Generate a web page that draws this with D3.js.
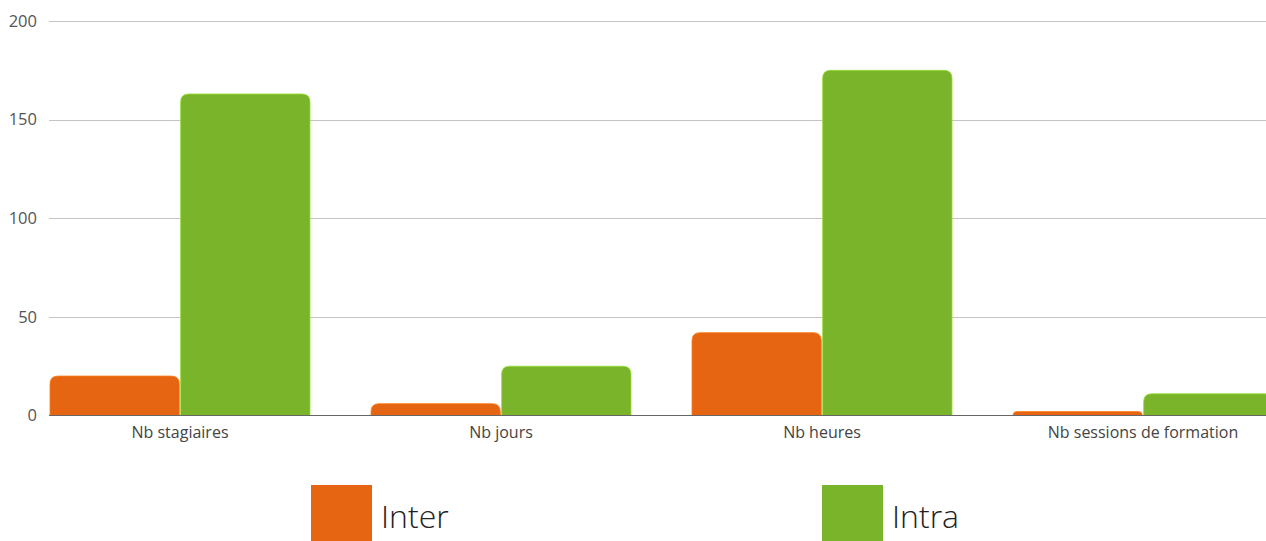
<!DOCTYPE html>
<html><head><meta charset="utf-8">
<script src="https://cdn.jsdelivr.net/npm/d3@7/dist/d3.min.js"></script>
<style>
html,body{margin:0;padding:0;background:#fff;}
svg{display:block;font-family:"Open Sans",sans-serif;}
</style></head>
<body><svg id="chart" width="1266" height="541"></svg>
<script>
const categories = ["Nb stagiaires", "Nb jours", "Nb heures", "Nb sessions de formation"];
const seriesNames = ["Inter", "Intra"];
const interValues = [20, 6, 42, 2];
const intraValues = [163, 25, 175, 11];
const yTicks = [0, 50, 100, 150, 200];
const colors = ["#e66513", "#79b42a"];

const svg = d3.select("#chart");
const plotLeft = 49, plotRight = 1266;
const y = d3.scaleLinear().domain([0, 200]).range([415.5, 21]);
const x0 = d3.scaleBand().domain(categories).range([19.5, 1303.5]).paddingInner(0.19).paddingOuter(0.095);
const x1 = d3.scaleBand().domain(seriesNames).range([0, x0.bandwidth()]).paddingInner(0.01);

// gridlines
svg.append("g").selectAll("line").data(yTicks.filter(d => d > 0)).join("line")
  .attr("x1", plotLeft).attr("x2", plotRight)
  .attr("y1", d => Math.round(y(d)) + 0.5).attr("y2", d => Math.round(y(d)) + 0.5)
  .attr("stroke", "#c4c4c4").attr("stroke-width", 1);

// y tick labels
const yAxis = d3.axisLeft(y).tickValues(yTicks).tickSize(0).tickPadding(0);
const ya = svg.append("g").attr("transform", `translate(37,0)`).call(yAxis);
ya.select(".domain").remove();
ya.selectAll("text").attr("font-family", "'Open Sans', sans-serif").attr("font-size", 16.5)
  .attr("fill", "#555").attr("dy", "0.32em");

function topRounded(x, yTop, w, h, r) {
  r = Math.min(r, h, w / 2);
  return `M${x},${yTop + h}V${yTop + r}Q${x},${yTop} ${x + r},${yTop}H${x + w - r}Q${x + w},${yTop} ${x + w},${yTop + r}V${yTop + h}Z`;
}

const rows = categories.map((c, i) => ({cat: c, vals: [interValues[i], intraValues[i]]}));
const g = svg.append("g");
rows.forEach(row => {
  row.vals.forEach((v, si) => {
    const bx = x0(row.cat) + x1(seriesNames[si]);
    const bw = x1.bandwidth();
    const top = y(v), h = y(0) - y(v);
    g.append("path").attr("d", topRounded(bx, top, bw, h, 8))
      .attr("fill", colors[si]).attr("stroke", d3.color(colors[si]).brighter(0.6)).attr("stroke-width", 0.8);
  });
});

// baseline
svg.append("line").attr("x1", plotLeft).attr("x2", plotRight).attr("y1", 415.5).attr("y2", 415.5)
  .attr("stroke", "#666").attr("stroke-width", 1);

// x labels
const xAxis = d3.axisBottom(x0).tickSize(0).tickPadding(0);
const xa = svg.append("g").attr("transform", `translate(0,427)`).call(xAxis);
xa.select(".domain").remove();
xa.selectAll("text").attr("font-family", "'Open Sans', sans-serif").attr("font-size", 16)
  .attr("fill", "#444").attr("dy", "0.71em");

// legend
const legendX = [311, 822];
const leg = svg.append("g");
seriesNames.forEach((s, i) => {
  leg.append("rect").attr("x", legendX[i]).attr("y", 485).attr("width", 61).attr("height", 56).attr("fill", colors[i]);
  leg.append("text").attr("x", legendX[i] + 70).attr("y", 528).text(s)
    .attr("font-family", "'Open Sans', sans-serif").attr("font-weight", 300).attr("font-size", 32).attr("fill", "#222");
});
</script></body></html>
